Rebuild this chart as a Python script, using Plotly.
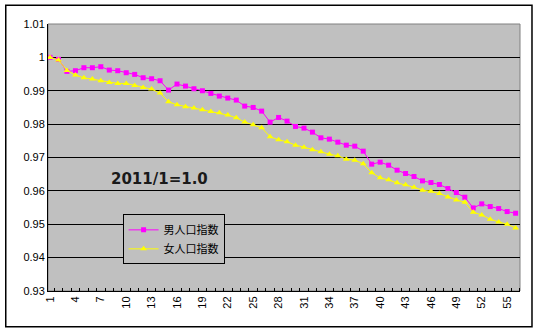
import plotly.graph_objects as go

# Monthly index values, base 2011/1 = 1.0
months = list(range(1, 57))
male_index = [
    1.0000, 0.9994, 0.9958, 0.9960, 0.9969, 0.9969, 0.9972, 0.9962, 0.9960, 0.9954,
    0.9949, 0.9939, 0.9936, 0.9930, 0.9902, 0.9920, 0.9914, 0.9906, 0.9900, 0.9892,
    0.9884, 0.9878, 0.9872, 0.9854, 0.9850, 0.9839, 0.9806, 0.9820, 0.9809, 0.9793,
    0.9788, 0.9776, 0.9759, 0.9755, 0.9746, 0.9737, 0.9734, 0.9719, 0.9680, 0.9686,
    0.9677, 0.9662, 0.9652, 0.9643, 0.9630, 0.9625, 0.9619, 0.9607, 0.9595, 0.9581,
    0.9549, 0.9561, 0.9553, 0.9547, 0.9538, 0.9533,
]
female_index = [
    1.0000, 0.9992, 0.9961, 0.9947, 0.9939, 0.9935, 0.9930, 0.9925, 0.9922, 0.9922,
    0.9916, 0.9910, 0.9905, 0.9893, 0.9867, 0.9858, 0.9852, 0.9848, 0.9843, 0.9838,
    0.9834, 0.9827, 0.9819, 0.9806, 0.9798, 0.9789, 0.9762, 0.9753, 0.9747, 0.9737,
    0.9731, 0.9723, 0.9717, 0.9710, 0.9705, 0.9695, 0.9692, 0.9681, 0.9654, 0.9639,
    0.9633, 0.9624, 0.9618, 0.9611, 0.9602, 0.9599, 0.9592, 0.9582, 0.9573, 0.9566,
    0.9536, 0.9528, 0.9515, 0.9507, 0.9500, 0.9489,
]
y_ticks = [0.93, 0.94, 0.95, 0.96, 0.97, 0.98, 0.99, 1.00, 1.01]
y_tick_text = ["0.93", "0.94", "0.95", "0.96", "0.97", "0.98", "0.99", "1", "1.01"]
x_label_months = months[::3]

TICK_FONT = dict(family="Liberation Sans, Arial, sans-serif", size=11, color="black")
CJK_FONT = "Noto Sans CJK JP, sans-serif"

fig = go.Figure()
fig.add_trace(go.Scatter(
    x=months, y=male_index, name="男人口指数", mode="lines+markers",
    line=dict(color="#FF00FF", width=1),
    marker=dict(symbol="square", size=5, color="#FF00FF"),
))
fig.add_trace(go.Scatter(
    x=months, y=female_index, name="女人口指数", mode="lines+markers",
    line=dict(color="#FFFF00", width=1),
    marker=dict(symbol="triangle-up", size=6, color="#FFFF00"),
))

fig.update_layout(
    width=539, height=333,
    margin=dict(l=48, r=19, t=24, b=42),
    paper_bgcolor="white",
    plot_bgcolor="#C0C0C0",
    showlegend=True,
    legend=dict(
        x=0.158, y=0.287, xanchor="left", yanchor="top",
        bgcolor="#C0C0C0", bordercolor="black", borderwidth=1,
        font=dict(family=CJK_FONT, size=11, color="black"),
        tracegroupgap=0, itemwidth=30,
    ),
    xaxis=dict(
        range=[0.76, 56.52],
        tickmode="array", tickvals=x_label_months,
        ticktext=[str(m) for m in x_label_months],
        tickangle=-90, tickfont=TICK_FONT,
        ticks="", showgrid=False, zeroline=False,
        showline=True, linecolor="black", linewidth=1,
        minor=dict(tickmode="linear", tick0=0.5, dtick=1,
                   ticks="inside", ticklen=3, tickcolor="black", showgrid=False),
    ),
    yaxis=dict(
        range=[0.93, 1.01],
        tickmode="array", tickvals=y_ticks, ticktext=y_tick_text,
        tickfont=TICK_FONT, ticks="",
        showgrid=True, gridcolor="black", gridwidth=1,
        zeroline=False, showline=True, linecolor="black", linewidth=1,
    ),
    annotations=[dict(
        x=0.236, y=0.419, xref="paper", yref="paper",
        xanchor="center", yanchor="middle",
        text="<b>2011/1=1.0</b>", showarrow=False,
        font=dict(family="DejaVu Sans, sans-serif", size=15, color="#1a1a1a"),
    )],
    shapes=[
        # plot-area frame (top/right edges in gray)
        dict(type="rect", xref="paper", yref="paper", x0=0, x1=1, y0=0, y1=1,
             line=dict(color="#808080", width=1), layer="below"),
        # outer chart border
        dict(type="rect", xref="paper", yref="paper",
             x0=-0.0895, x1=1.0254, y0=-0.1337, y1=1.0700,
             line=dict(color="black", width=1.5)),
    ],
)

fig.write_html("out.html")
